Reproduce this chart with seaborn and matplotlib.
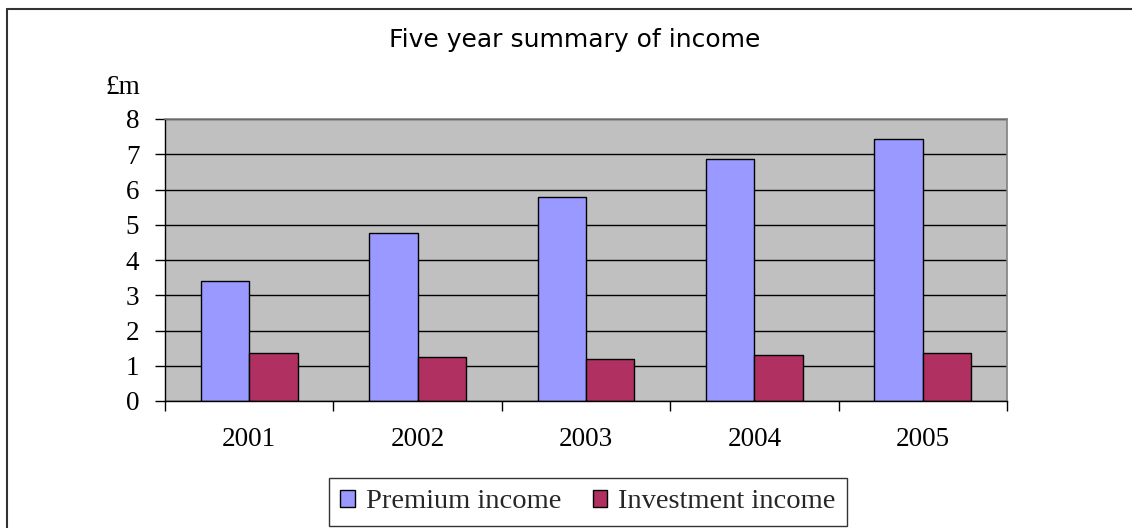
import numpy as np
import pandas as pd
import matplotlib
matplotlib.use("Agg")
import matplotlib.pyplot as plt
import seaborn as sns
from matplotlib.lines import Line2D
from matplotlib.patches import Patch

# ---- data ----
years = ["2001", "2002", "2003", "2004", "2005"]
premium_income = [3.40, 4.77, 5.79, 6.87, 7.43]
investment_income = [1.35, 1.25, 1.19, 1.30, 1.35]
series_names = ["Premium income", "Investment income"]
series_colors = ["#9999FF", "#B03062"]
y_ticks = [0, 1, 2, 3, 4, 5, 6, 7, 8]
title_text = "Five year summary of income"
unit_text = "£m"

df = pd.DataFrame({
    "Year": years * 2,
    "Value": premium_income + investment_income,
    "Series": [series_names[0]] * len(years) + [series_names[1]] * len(years),
})

sns.set_theme(style="white")
plt.rcParams["font.family"] = ["Liberation Serif", "DejaVu Serif"]

W, H = 1132, 528
FS = 19.5
fig = plt.figure(figsize=(W / 100, H / 100), dpi=100)
fig.patch.set_facecolor("white")
ax = fig.add_axes([165 / W, 1 - 401 / H, (1007 - 165) / W, (401 - 119) / H])

sns.barplot(data=df, x="Year", y="Value", hue="Series", hue_order=series_names,
            palette=series_colors, width=0.576, gap=0, saturation=1,
            edgecolor="black", linewidth=1, errorbar=None, legend=False, ax=ax)

ax.set_facecolor("#C0C0C0")
ax.set_xlim(-0.5, len(years) - 0.5)
ax.set_ylim(0, 8)
ax.set_yticks(y_ticks)
ax.yaxis.grid(True, color="black", linewidth=1)
ax.xaxis.grid(False)
ax.set_axisbelow(True)
ax.set_xlabel("")
ax.set_ylabel("")

for s in ["left", "bottom"]:
    ax.spines[s].set_color("black")
    ax.spines[s].set_linewidth(1)
for s in ["top", "right"]:
    ax.spines[s].set_color("#808080")
    ax.spines[s].set_linewidth(1.2)

ax.tick_params(axis="y", which="major", left=True, direction="out", length=7.5,
               width=1, color="black", pad=11, labelsize=FS, labelcolor="black")
ax.set_xticks(np.arange(len(years)))
ax.set_xticks(np.arange(-0.5, len(years), 1), minor=True)
ax.tick_params(axis="x", which="major", bottom=False, length=0, pad=19,
               labelsize=FS, labelcolor="black")
ax.tick_params(axis="x", which="minor", bottom=True, direction="out", length=7,
               width=1, color="black")

fig.text(575 / W, 1 - 47 / H, title_text, ha="center", va="baseline",
         fontsize=18, family=["DejaVu Sans"], color="black")
fig.text(140 / W, 1 - 88 / H, unit_text, ha="right", va="center",
         fontsize=FS, color="black")

handles = [Patch(facecolor=c, edgecolor="black", linewidth=1) for c in series_colors]
leg = fig.legend(handles, series_names, loc="center",
                 bbox_to_anchor=(588 / W, 1 - 502 / H), ncol=2, frameon=True,
                 fancybox=False, edgecolor="black", fontsize=20.5,
                 handlelength=0.5, handleheight=0.5, handletextpad=0.4,
                 columnspacing=1.1, borderpad=0.4, borderaxespad=0)
leg.get_frame().set_linewidth(1)

fig.add_artist(Line2D([7 / W, 1], [1 - 9 / H, 1 - 9 / H], transform=fig.transFigure,
                      color="#333333", linewidth=1.5))
fig.add_artist(Line2D([7 / W, 7 / W], [0, 1 - 9 / H], transform=fig.transFigure,
                      color="#333333", linewidth=1.5))

fig.savefig("out.png", dpi=100)
